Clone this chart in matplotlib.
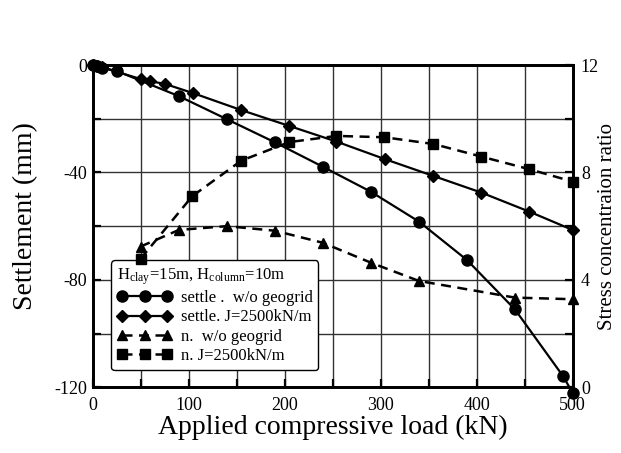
import matplotlib
matplotlib.use("Agg")
import matplotlib.pyplot as plt

plt.rcParams["font.family"] = ["Liberation Serif", "DejaVu Serif"]
plt.rcParams["mathtext.fontset"] = "stix"
plt.rcParams["axes.unicode_minus"] = False

# Settlement, no geogrid (circles)
load_settle_plain = [0, 5, 10, 25, 90, 140, 190, 240, 290, 340, 390, 440, 490, 500]
settle_plain = [0, -0.4, -1.0, -2.2, -11.6, -20.2, -28.8, -37.9, -47.2, -58.3,
                -72.6, -91.0, -115.8, -122.0]

# Settlement, J = 2500 kN/m (diamonds)
load_settle_grid = [0, 5, 10, 50, 60, 76, 105, 155, 205, 254, 305, 355, 405, 455, 500]
settle_grid = [0, -0.4, -0.9, -5.2, -6.0, -7.1, -10.5, -16.8, -22.7, -28.5,
               -35.1, -41.3, -47.5, -54.6, -61.4]

# Stress concentration ratio, no geogrid (triangles)
load_ratio_plain = [50, 90, 140, 190, 240, 290, 340, 440, 500]
ratio_plain = [5.24, 5.86, 6.0, 5.83, 5.38, 4.64, 3.96, 3.34, 3.28]

# Stress concentration ratio, J = 2500 kN/m (squares)
load_ratio_grid = [50, 104, 155, 205, 254, 304, 355, 405, 455, 500]
ratio_grid = [4.78, 7.12, 8.44, 9.13, 9.36, 9.31, 9.06, 8.59, 8.12, 7.66]

x_ticks = [0, 100, 200, 300, 400, 500]
left_ticks = [0, -40, -80, -120]
right_ticks = [0, 4, 8, 12]

fig = plt.figure(figsize=(6.21, 4.53), dpi=100)
ax = fig.add_axes([0.149, 0.145, 0.773, 0.7115])
ax2 = ax.twinx()

ax.set_xlim(0, 500)
ax.set_ylim(-120, 0)
ax2.set_ylim(0, 12)

# grid every 50 kN and every 20 mm
for gx in range(50, 500, 50):
    ax.axvline(gx, color="#333333", lw=1.0, zorder=0)
for gy in range(-100, 0, 20):
    ax.axhline(gy, color="#333333", lw=1.0, zorder=0)

solid = dict(color="black", lw=1.6, clip_on=False, zorder=3)
dashed = dict(color="black", lw=1.8, ls=(0, (4, 2.6)), clip_on=False, zorder=3)

h1, = ax.plot(load_settle_plain, settle_plain, marker="o", ms=8, **solid,
              label="settle .  w/o geogrid")
h2, = ax.plot(load_settle_grid, settle_grid, marker="D", ms=6.5, **solid,
              label="settle. J=2500kN/m")
h3, = ax2.plot(load_ratio_plain, ratio_plain, marker="^", ms=6.5, **dashed,
               label="n.  w/o geogrid")
h4, = ax2.plot(load_ratio_grid, ratio_grid, marker="s", ms=7, **dashed,
               label="n. J=2500kN/m")

ax.set_xticks(x_ticks)
ax.set_xticks(range(0, 501, 50), minor=True)
ax.set_yticks(left_ticks)
ax.set_yticks(range(-120, 1, 20), minor=True)
ax2.set_yticks(right_ticks)
ax2.set_yticks(range(0, 13, 2), minor=True)

ax.tick_params(axis="x", which="major", direction="in", length=6, width=1.6,
               labelsize=13, pad=7)
ax.tick_params(axis="y", which="major", direction="in", length=6, width=1.6,
               labelsize=13, pad=4)
ax.tick_params(axis="both", which="minor", direction="in", length=6, width=1.6)
ax2.tick_params(axis="y", which="major", direction="in", length=6, width=1.6,
                labelsize=13, pad=6)
ax2.tick_params(axis="y", which="minor", direction="in", length=6, width=1.6)

for a in (ax, ax2):
    for s in a.spines.values():
        s.set_linewidth(2.0)

ax.set_xlabel("Applied compressive load (kN)", fontsize=20)
ax.xaxis.set_label_coords(0.5, -0.085)
ax.set_ylabel("Settlement (mm)", fontsize=20)
ax.yaxis.set_label_coords(-0.113, 0.53)
ax2.set_ylabel("Stress concentraion ratio", fontsize=15, rotation=90)
ax2.yaxis.set_label_coords(1.052, 0.5)

leg = ax.legend(handles=[h1, h2, h3, h4],
                title=r"H$_\mathregular{clay}$=15m, H$_\mathregular{column}$=10m",
                loc="lower left", bbox_to_anchor=(0.022, 0.028),
                numpoints=3, handlelength=3.3, handletextpad=0.5,
                fontsize=12, title_fontsize=12, alignment="left",
                frameon=True, fancybox=True, edgecolor="black",
                borderpad=0.35, labelspacing=0.2, framealpha=1)
leg.get_frame().set_linewidth(1.0)
leg.set_zorder(5)

fig.savefig("out.png", dpi=100)
